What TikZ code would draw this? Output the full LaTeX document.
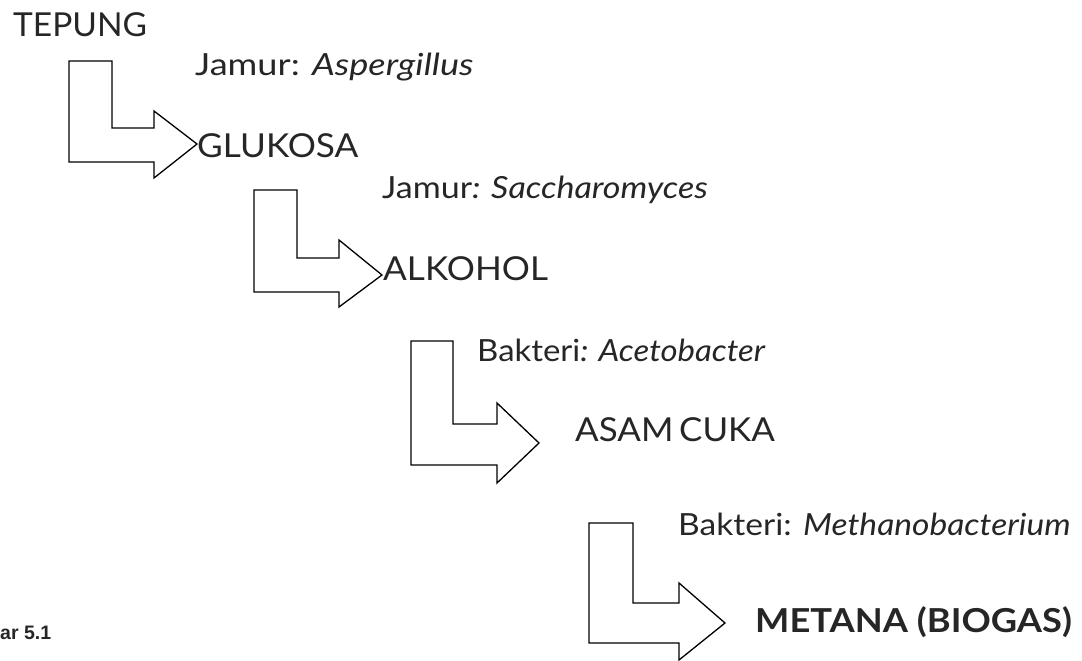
\documentclass[tikz,border=0pt]{standalone}
\usepackage{fontspec}
\usepackage{graphicx}
\setmainfont{Lato}
\newfontfamily\capfont{Liberation Sans}
\definecolor{txt}{HTML}{262626}
\newcommand{\wide}[2]{\scalebox{#1}[1]{#2}}
\tikzset{
  bigword/.style={anchor=base west, inner sep=0pt, text=txt, font=\fontsize{33}{33}\selectfont},
  orglabel/.style={anchor=base west, inner sep=0pt, text=txt, font=\fontsize{30.5}{30.5}\selectfont},
  blockarrow/.style={draw=black, line width=1.3pt, line join=miter, fill=white},
}
\begin{document}
\begin{tikzpicture}[x=1pt,y=-1pt]
\useasboundingbox (0,0) rectangle (1082,661);
% block arrows
\draw[blockarrow] (69,61) -- (112,61) -- (112,128) -- (154,128) -- (154,111) -- (197,144) -- (154,178) -- (154,162) -- (69,162) -- cycle;
\draw[blockarrow] (254,190) -- (297,190) -- (297,258) -- (339,258) -- (339,240) -- (382,275) -- (339,307) -- (339,292) -- (254,292) -- cycle;
\draw[blockarrow] (411,341) -- (453,341) -- (453,424) -- (497,424) -- (497,403) -- (539,443) -- (497,483) -- (497,465) -- (411,465) -- cycle;
\draw[blockarrow] (589,523) -- (633,523) -- (633,603) -- (679,603) -- (679,583) -- (725,623) -- (679,660) -- (679,643) -- (589,643) -- cycle;
% products
\node[bigword] (tepung) at (13,37) {\wide{1.015}{TEPUNG}};
\node[bigword] (glukosa) at (197,157) {\wide{1.066}{GLUKOSA}};
\node[bigword] (alkohol) at (383,280) {\wide{1.065}{ALKOHOL}};
\node[bigword] (asam) at (575,441) {\wide{1.058}{ASAM\,CUKA}};
\node[bigword, font=\fontsize{33}{33}\selectfont\bfseries] (metana) at (755,632) {\wide{1.10}{METANA (BIOGAS)}};
% organisms
\node[orglabel] (l1) at (195,76) {\wide{1.185}{Jamur: \textit{Aspergillus}}};
\node[orglabel] (l2) at (382,198) {\wide{1.116}{Jamur\textit{: Saccharomyces}}};
\node[orglabel] (l3) at (477,361) {\wide{1.079}{Bakteri\textit{: Acetobacter}}};
\node[orglabel] (l4) at (678,535) {\wide{1.10}{Bakteri: \textit{Methanobacterium}}};
% caption
\node[anchor=base west, inner sep=0pt, text=txt, font=\capfont\bfseries\fontsize{19.5}{19.5}\selectfont] (cap) at (0,639) {ar 5.1};
\end{tikzpicture}
\end{document}
